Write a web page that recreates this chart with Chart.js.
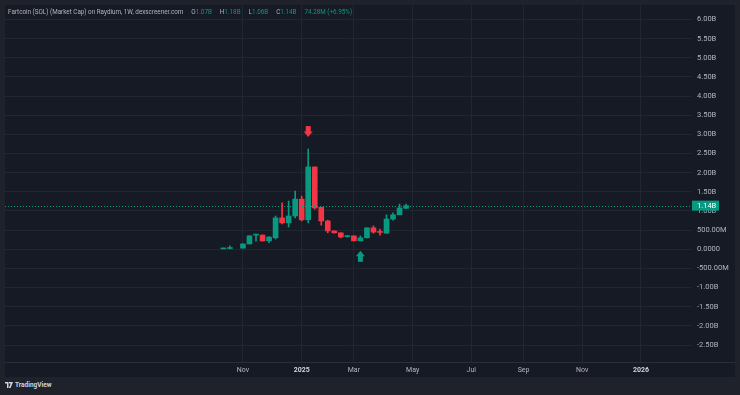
<!DOCTYPE html>
<html>
<head>
<meta charset="utf-8">
<script src="https://cdn.jsdelivr.net/npm/chart.js@4.4.1/dist/chart.umd.min.js"></script>
<style>
  html, body { margin: 0; padding: 0; width: 740px; height: 395px; overflow: hidden; background: #1f222b; }
  #pane { position: absolute; left: 5px; top: 5px; width: 730px; height: 372px; background: #161a25; }
  #chart { position: absolute; left: 0; top: 0; }
  #title { position: absolute; left: 3px; top: 3px; font: 6.3px Roboto, sans-serif; color: #b2b5be; white-space: pre; }
  #title .g { margin-left: 8px; }
  #title .v { color: #089981; }
  #logo { position: absolute; left: 5px; top: 381px; font: bold 6.5px Roboto, sans-serif; color: #d1d4dc; display: flex; align-items: center; gap: 2px; }
</style>
</head>
<body>
<div id="pane">
  <canvas id="chart" width="730" height="372"></canvas>
  <div id="title">Fartcoin (SOL) (Market Cap) on Raydium, 1W, dexscreener.com<span class="g">O<span class="v">1.07B</span></span><span class="g">H<span class="v">1.18B</span></span><span class="g">L<span class="v">1.06B</span></span><span class="g">C<span class="v">1.14B</span></span><span class="g v">74.28M (+6.95%)</span></div>
</div>
<div id="logo">
  <svg width="8" height="6" viewBox="0 0 8 6"><path d="M0 0h3.5v6h-1.5v-4.5h-2z M4 0h4l-2.5 6h-1.6l1.8-4.5h-1.7z" fill="#d1d4dc"/></svg>
  <span>TradingView</span>
</div>
<script>
// weekly candles, market cap in billions (week 0 = mid Oct 2024)
const opens  = [0.01, 0.02, null, 0.03, 0.14, 0.37, 0.37, 0.22, 0.30, 0.82, 0.69, 0.87, 1.31, 0.77, 2.15, 1.10, 0.74, 0.48, 0.43, 0.33, 0.35, 0.22, 0.30, 0.56, 0.45, 0.42, 0.79, 0.90, 1.07];
const highs  = [0.03, 0.09, null, 0.14, 0.36, 0.40, 0.38, 0.33, 0.87, 1.21, 1.26, 1.52, 1.39, 2.62, 2.15, 1.10, 0.76, 0.48, 0.43, 0.36, 0.35, 0.35, 0.56, 0.61, 0.53, 0.90, 0.95, 1.18, 1.18];
const lows   = [0.00, 0.01, null, 0.03, 0.14, 0.21, 0.21, 0.17, 0.27, 0.66, 0.58, 0.82, 0.74, 0.69, 1.05, 0.63, 0.43, 0.42, 0.30, 0.32, 0.22, 0.22, 0.30, 0.42, 0.37, 0.42, 0.76, 0.90, 1.06];
const closes = [0.03, 0.03, null, 0.14, 0.35, 0.38, 0.22, 0.32, 0.82, 0.69, 0.87, 1.31, 0.77, 2.15, 1.08, 0.74, 0.48, 0.43, 0.32, 0.35, 0.22, 0.30, 0.56, 0.45, 0.44, 0.79, 0.90, 1.08, 1.14];

const monthTicks  = [3, 12, 20, 29, 38, 46, 55, 64];
const monthLabels = ['Nov', '2025', 'Mar', 'May', 'Jul', 'Sep', 'Nov', '2026'];
const priceTicks  = [-2.5, -2, -1.5, -1, -0.5, 0, 0.5, 1, 1.5, 2, 2.5, 3, 3.5, 4, 4.5, 5, 5.5, 6];

const signalWeeks = [13, 21];
const signalSide  = ['sell', 'buy'];
const signalLevel = [2.93, -0.04];

const GREEN = '#089981';
const RED = '#f23645';
const GRID = '#222631';
const TEXT = '#b2b5be';

const weeks = opens.map((_, i) => i).filter(i => opens[i] !== null);
const candleColors = weeks.map(i => closes[i] >= opens[i] ? GREEN : RED);
const lastClose = closes[closes.length - 1];

function fmtCap(v) {
  if (v === 0) return '0.0000';
  if (Math.abs(v) < 1) return (v * 1000).toFixed(2) + 'M';
  return v.toFixed(2) + 'B';
}

// drop the label overflow padding chart.js adds, so the plot fills the pane
function noPad(s) {
  s.paddingTop = 0;
  s.paddingBottom = 0;
  s.paddingLeft = 0;
  s.paddingRight = 0;
}

const overlays = {
  id: 'overlays',
  afterDatasetsDraw(chart) {
    const { ctx, chartArea, scales } = chart;
    // current price dotted line
    const py = Math.round(scales.y.getPixelForValue(lastClose)) + 0.5;
    ctx.save();
    ctx.strokeStyle = GREEN;
    ctx.lineWidth = 1;
    ctx.setLineDash([1, 2]);
    ctx.beginPath();
    ctx.moveTo(chartArea.left, py);
    ctx.lineTo(chartArea.right, py);
    ctx.stroke();
    ctx.setLineDash([]);
    // signal arrows
    signalWeeks.forEach((w, k) => {
      const x = scales.x.getPixelForValue(w);
      const tip = scales.y.getPixelForValue(signalLevel[k]);
      const d = signalSide[k] === 'sell' ? -1 : 1;
      ctx.fillStyle = signalSide[k] === 'sell' ? RED : GREEN;
      ctx.beginPath();
      ctx.moveTo(x, tip);
      ctx.lineTo(x - 4.5, tip + d * 5.5);
      ctx.lineTo(x + 4.5, tip + d * 5.5);
      ctx.closePath();
      ctx.fill();
      ctx.fillRect(x - 2.5, d > 0 ? tip + 5 : tip - 11, 5, 6);
    });
    ctx.restore();
  },
  afterDraw(chart) {
    const { ctx, chartArea, scales, width } = chart;
    ctx.save();
    // time axis separator
    ctx.strokeStyle = '#2a2e39';
    ctx.lineWidth = 1;
    ctx.beginPath();
    ctx.moveTo(0, chartArea.bottom + 0.5);
    ctx.lineTo(width, chartArea.bottom + 0.5);
    ctx.stroke();
    // last price label
    const py = scales.y.getPixelForValue(lastClose);
    ctx.fillStyle = GREEN;
    ctx.fillRect(chartArea.right, py - 5, 27, 10);
    ctx.fillStyle = '#ffffff';
    ctx.font = '7.5px Roboto, sans-serif';
    ctx.textBaseline = 'middle';
    ctx.fillText(fmtCap(lastClose), chartArea.right + 5, py + 0.5);
    ctx.restore();
  }
};

new Chart(document.getElementById('chart'), {
  type: 'bar',
  data: {
    datasets: [
      {
        label: 'body',
        data: weeks.map(i => ({ x: i, y: [opens[i], closes[i]] })),
        backgroundColor: candleColors,
        barThickness: 5,
        minBarLength: 1,
        grouped: false
      },
      {
        label: 'wick',
        data: weeks.map(i => ({ x: i, y: [lows[i], highs[i]] })),
        backgroundColor: candleColors,
        barThickness: 1,
        grouped: false
      }
    ]
  },
  options: {
    responsive: false,
    animation: false,
    layout: { padding: 0, autoPadding: false },
    plugins: { legend: { display: false }, tooltip: { enabled: false } },
    scales: {
      x: {
        type: 'linear',
        min: -33.47,
        max: 71.82,
        offset: false,
        grid: { color: GRID, offset: false, drawTicks: false },
        border: { display: false },
        afterBuildTicks: s => { s.ticks = monthTicks.map(v => ({ value: v })); },
        afterFit: s => { s.height = 15; noPad(s); },
        ticks: {
          autoSkip: false,
          maxRotation: 0,
          padding: 4,
          color: c => (c.tick && [12, 64].includes(c.tick.value)) ? '#d1d4dc' : TEXT,
          font: c => ({ family: 'Roboto, sans-serif', size: 7, weight: (c.tick && [12, 64].includes(c.tick.value)) ? 'bold' : 'normal' }),
          callback: v => monthLabels[monthTicks.indexOf(v)]
        }
      },
      y: {
        position: 'right',
        min: -2.943,
        max: 6.379,
        grid: { color: GRID, drawTicks: false },
        border: { display: false },
        afterBuildTicks: s => { s.ticks = priceTicks.map(v => ({ value: v })); },
        afterFit: s => { s.width = 43; noPad(s); },
        ticks: {
          crossAlign: 'near',
          padding: 5,
          color: TEXT,
          font: { family: 'Roboto, sans-serif', size: 7.5 },
          callback: v => fmtCap(v)
        }
      }
    }
  },
  plugins: [overlays]
});
</script>
</body>
</html>
